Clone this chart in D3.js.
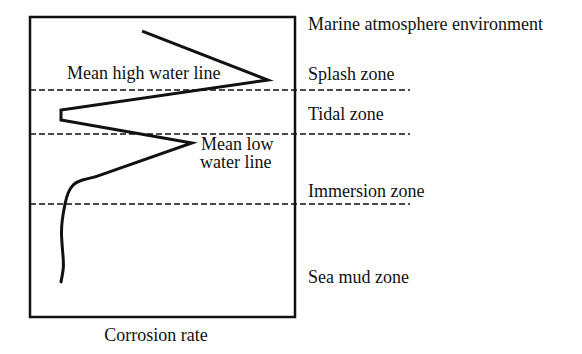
<!DOCTYPE html>
<html>
<head>
<meta charset="utf-8">
<script src="https://cdn.jsdelivr.net/npm/d3@7"></script>
<style>
  body { margin: 0; background: #fff; }
</style>
</head>
<body>
<div id="chart"></div>
<script>
// corrosion rate (arbitrary units, 0-100) against depth (0 = top, 100 = bottom)
const rate  = [42.3, 89.8, 11.7, 11.7, 61.1, 24.6, 19.5, 16.2, 14.3, 13.2, 12.1, 11.7, 12.5, 12.8, 11.7];
const depth = [4.7, 21.0, 31.0, 34.3, 42.0, 53.3, 54.3, 55.6, 58.5, 62.0, 67.7, 72.0, 80.0, 83.3, 88.3];

// zone boundaries (depth units)
const boundaries = [24.3, 39.0, 62.3];

const zoneNames = ['Marine atmosphere environment', 'Splash zone', 'Tidal zone', 'Immersion zone', 'Sea mud zone'];
const zoneDepths = [4.3, 21.0, 34.3, 60.0, 88.7];

const xLabel = 'Corrosion rate';

const width = 582, height = 354;
const margin = {top: 17, left: 30, right: 287, bottom: 37};
const serif = '"Liberation Serif", "Times New Roman", Times, "DejaVu Serif", serif';

const svg = d3.select('#chart').append('svg')
    .attr('width', width)
    .attr('height', height)
    .attr('font-family', serif);

const x = d3.scaleLinear()
    .domain([0, 100])
    .range([margin.left, width - margin.right]);

const y = d3.scaleLinear()
    .domain([0, 100])
    .range([margin.top, height - margin.bottom]);

const pts = rate.map(function(r, i) { return [r, depth[i]]; });

// dashed zone boundaries, running past the frame
svg.append('g')
    .selectAll('line')
    .data(boundaries)
    .enter().append('line')
    .attr('x1', x(0))
    .attr('x2', 410)
    .attr('y1', function(d) { return y(d); })
    .attr('y2', function(d) { return y(d); })
    .attr('stroke', '#111')
    .attr('stroke-width', 1.5)
    .attr('stroke-dasharray', '6,3');

// frame
svg.append('rect')
    .attr('x', x(0))
    .attr('y', y(0))
    .attr('width', x(100) - x(0))
    .attr('height', y(100) - y(0))
    .attr('fill', 'none')
    .attr('stroke', '#111')
    .attr('stroke-width', 2.5);

const line = d3.line()
    .x(function(d) { return x(d[0]); })
    .y(function(d) { return y(d[1]); });

// zigzag part straight, lower part smooth
svg.append('path')
    .datum(pts.slice(0, 6))
    .attr('fill', 'none')
    .attr('stroke', '#111')
    .attr('stroke-width', 3)
    .attr('stroke-linejoin', 'miter')
    .attr('d', line);

svg.append('path')
    .datum(pts.slice(5))
    .attr('fill', 'none')
    .attr('stroke', '#111')
    .attr('stroke-width', 3)
    .attr('stroke-linecap', 'round')
    .attr('d', line.curve(d3.curveBasis));

// zone labels
svg.append('g')
    .selectAll('text')
    .data(zoneNames)
    .enter().append('text')
    .attr('x', 308)
    .attr('y', function(d, i) { return y(zoneDepths[i]); })
    .attr('font-size', 18)
    .attr('fill', '#111')
    .text(function(d) { return d; });

// water line notes
const notes = svg.append('g')
    .attr('font-size', 18)
    .attr('fill', '#111');

notes.append('text').attr('x', 67).attr('y', 79).text('Mean high water line');
notes.append('text').attr('x', 201).attr('y', 150).text('Mean low');
notes.append('text').attr('x', 200).attr('y', 168).text('water line');

svg.append('text')
    .attr('x', 156)
    .attr('y', 341)
    .attr('text-anchor', 'middle')
    .attr('font-size', 18)
    .attr('fill', '#111')
    .text(xLabel);
</script>
</body>
</html>
